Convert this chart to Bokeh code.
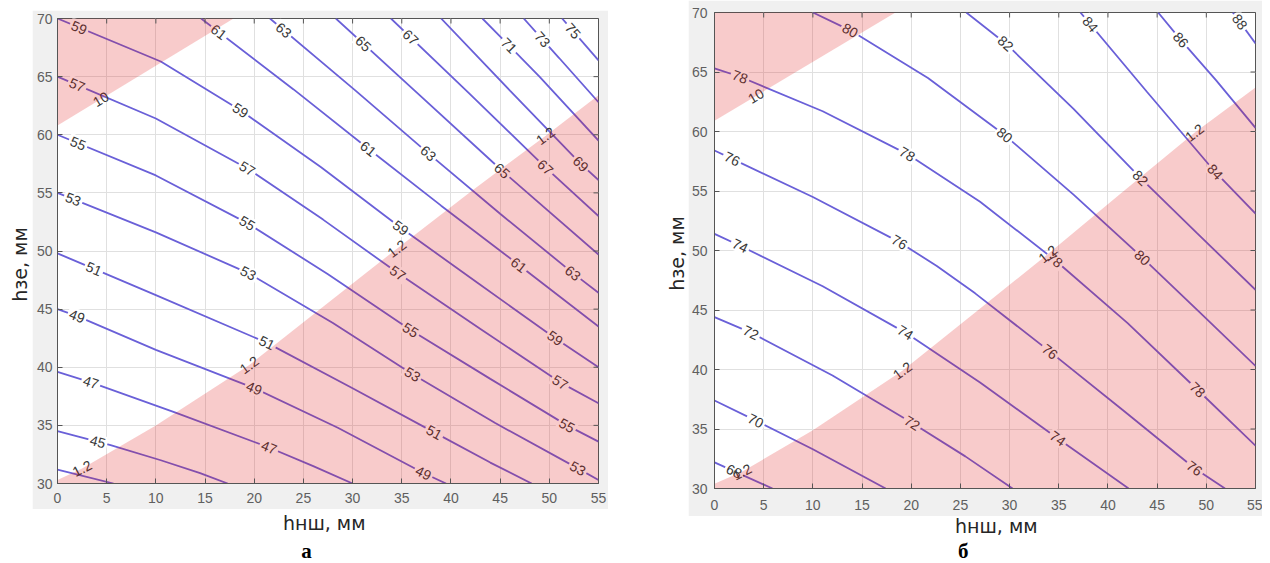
import math
import numpy as np
from bokeh.plotting import figure
from bokeh.layouts import row, column
from bokeh.models import Range1d, FixedTicker, ColumnDataSource, Spacer
from bokeh.core.properties import value
from bokeh.embed import file_html
from bokeh.resources import INLINE

# ---------------- data ----------------
X_TICKS = [0, 5, 10, 15, 20, 25, 30, 35, 40, 45, 50, 55]
Y_TICKS = [30, 35, 40, 45, 50, 55, 60, 65, 70]
X_TITLE = "hнш, мм"
Y_TITLE = "hзе, мм"
PANEL_TAGS = ["а", "б"]

# panel a: contour levels and their traced lines
A_LEVELS = [43, 45, 47, 49, 51, 53, 55, 57, 59, 61, 63, 65, 67, 69, 71, 73, 75]
A_XS = [
    [0, 5.7],
    [0, 5.4, 10.5, 14.5, 17.3],
    [0, 3.4, 12, 21.5, 26, 30],
    [0, 2, 10, 20, 28.5, 37.2, 39.5],
    [0, 10, 21.3, 30, 38.3, 44, 48.2],
    [0, 10, 19.4, 28, 36.1, 44.5, 52.9, 55],
    [0, 10, 19.3, 27.5, 35.9, 44, 51.8, 55],
    [0, 10, 19.3, 27, 34.6, 43, 51.1, 55],
    [0, 10.5, 18.6, 26.8, 34.9, 42.8, 50.6, 55],
    [14.6, 24, 31.6, 39, 46.9, 55],
    [21.6, 30.3, 37.7, 45, 52.4, 55],
    [28.3, 36.7, 45.2, 55],
    [33.9, 41.8, 49.6, 55],
    [39, 46, 53.2, 55],
    [43.2, 49, 55],
    [47.4, 51, 55],
    [51.3, 55],
]
A_YS = [
    [31.2, 30],
    [34.5, 33.3, 32.0, 30.9, 30],
    [39.6, 38.7, 36.1, 33.1, 31.5, 30],
    [45, 44.4, 41.5, 38.2, 34.8, 30.9, 30],
    [49.8, 46.2, 42.1, 38.2, 34.4, 31.8, 30],
    [55, 51.6, 48.1, 43.8, 39.4, 35.2, 31.3, 30.3],
    [60, 56.5, 52.4, 48, 43.2, 39, 35, 33.6],
    [65, 61.4, 57.1, 52.7, 48.1, 43.3, 38.7, 36.9],
    [70, 66.3, 62.1, 57.2, 52, 47.2, 42.5, 40],
    [70, 63.9, 58.8, 53.9, 48.8, 43.5],
    [70, 63.8, 58.4, 53.2, 48.1, 46.4],
    [70, 63.5, 56.9, 49.7],
    [70, 63.6, 57.2, 53.0],
    [70, 63.8, 57.5, 56.1],
    [70, 65, 59.5],
    [70, 66.6, 62.8],
    [70, 66.4],
]
A_LAB_LEVEL = [59, 59, 59, 59, 61, 61, 61, 63, 63, 63, 65, 65, 67, 67, 69, 71, 73, 75,
               57, 57, 57, 57, 55, 55, 55, 55, 53, 53, 53, 53, 51, 51, 51, 49, 49, 49, 47, 47, 45]
A_LAB_X = [2.2, 18.6, 34.9, 50.6, 16.4, 31.6, 46.9, 23.0, 37.7, 52.4, 31.1, 45.2, 35.9, 49.6, 53.2, 45.9, 49.3, 52.4,
           2.0, 19.3, 34.6, 51.1, 2.1, 19.3, 35.9, 51.8, 1.6, 19.4, 36.1, 52.9, 3.7, 21.3, 38.3, 2.0, 20.0, 37.2, 3.4, 21.5, 4.1]
A_UPPER_X = [0, 17.9]
A_UPPER_Y = [60.8, 70]
A_LOWER_X = [0, 2.5, 10, 19.5, 27, 34.5, 42, 49.6, 55]
A_LOWER_Y = [30.3, 31.3, 35.0, 40.2, 45.2, 50.2, 55.1, 59.9, 63.4]
A_BLAB_TEXT = ["10", "1.2", "1.2", "1.2", "1.2"]
A_BLAB_X = [4.4, 2.5, 19.5, 34.5, 49.6]
A_BLAB_ON = ["upper", "lower", "lower", "lower", "lower"]

# panel б
B_LEVELS = [68, 70, 72, 74, 76, 78, 80, 82, 84, 86, 88]
B_XS = [
    [0, 5.9],
    [0, 4.2, 10, 17.4],
    [0, 3.7, 12, 20.1, 25.5, 30.3],
    [0, 2.6, 11, 19.4, 27, 34.9, 42.1],
    [0, 1.8, 10, 18.8, 22.6, 26.5, 34.1, 41.5, 48.8, 51.9],
    [0, 2.6, 11, 19.6, 27, 34.6, 42, 49.1, 55],
    [10, 13.8, 21.7, 29.5, 36.5, 43.5, 49.2, 55],
    [25.6, 29.6, 36.5, 43.3, 49, 55],
    [37.2, 44, 50.9, 55],
    [45.1, 47.4, 51, 55],
    [52.7, 55],
]
B_YS = [
    [32.2, 30],
    [37.4, 35.7, 33.3, 30],
    [44.4, 43.1, 39.5, 35.5, 32.7, 30],
    [51.4, 50.4, 47, 43.1, 38.9, 34.2, 30],
    [58.4, 57.7, 54.5, 50.7, 48.7, 46.4, 41.5, 36.6, 31.7, 30],
    [65.3, 64.6, 61.7, 58.1, 54.1, 49.2, 43.9, 38.3, 33.6],
    [70, 68.5, 64.5, 59.7, 54.7, 49.4, 44.9, 40.3],
    [70, 67.4, 61.9, 56.1, 51.5, 46.7],
    [70, 63.3, 56.6, 53.1],
    [70, 67.7, 64.3, 60.3],
    [70, 67.4],
]
B_LAB_LEVEL = [68, 70, 72, 72, 74, 74, 74, 76, 76, 76, 76, 78, 78, 78, 78, 80, 80, 80, 82, 82, 84, 84, 86, 88]
B_LAB_X = [2.0, 4.2, 3.7, 20.1, 2.6, 19.4, 34.9, 1.8, 18.8, 34.1, 48.8, 2.6, 19.6, 34.6, 49.1,
           13.8, 29.5, 43.5, 29.6, 43.3, 38.2, 50.9, 47.4, 53.4]
B_UPPER_X = [0, 18.4]
B_UPPER_Y = [60.9, 70]
B_LOWER_X = [0, 2.8, 10, 19.1, 26.5, 33.9, 41.3, 48.8, 55]
B_LOWER_Y = [30.4, 31.4, 34.9, 39.9, 44.8, 49.7, 54.8, 59.9, 63.7]
B_BLAB_TEXT = ["10", "1.2", "1.2", "1.2", "1.2"]
B_BLAB_X = [4.2, 2.8, 19.1, 33.9, 48.8]
B_BLAB_ON = ["upper", "lower", "lower", "lower", "lower"]

# ---------------- style ----------------
GREY_BG = "#f0f0f0"
LINE_C = "#6a60d8"
AXIS_C = "#555555"
TICK_TXT_C = "#5f5f5f"
GRID_C = "#e0e0e0"
PINK = "#e01010"
LAB_C = "#383838"
TICK_LEN = 5


def on_line(xs, ys, xq, sx, sy):
    yq = float(np.interp(xq, xs, ys))
    x1 = max(xs[0], xq - 1.5)
    x2 = min(xs[-1], xq + 1.5)
    y1, y2 = np.interp([x1, x2], xs, ys)
    return yq, math.atan2((y2 - y1) * sy, (x2 - x1) * sx)


def build_panel(levels, xs, ys, lab_level, lab_x, up_x, up_y, lo_x, lo_y,
                bl_text, bl_x, bl_on, borders, frame, standoffs):
    l, r, t, b = borders
    fw, fh = frame
    x0, x1 = X_TICKS[0], X_TICKS[-1]
    y0, y1 = Y_TICKS[0], Y_TICKS[-1]
    sx = fw / (x1 - x0)
    sy = fh / (y1 - y0)
    p = figure(frame_width=fw, frame_height=fh,
               x_range=Range1d(x0, x1), y_range=Range1d(y0, y1),
               min_border_left=l, min_border_right=r, min_border_top=t, min_border_bottom=b,
               toolbar_location=None, output_backend="svg",
               border_fill_color=GREY_BG, background_fill_color="white",
               outline_line_color=AXIS_C)
    for ax, ticks in ((p.xaxis[0], X_TICKS), (p.yaxis[0], Y_TICKS)):
        ax.ticker = FixedTicker(ticks=ticks)
        ax.major_tick_in = TICK_LEN
        ax.major_tick_out = 0
        ax.minor_tick_in = 0
        ax.minor_tick_out = 0
        ax.axis_line_color = AXIS_C
        ax.major_tick_line_color = AXIS_C
        ax.major_label_text_color = TICK_TXT_C
        ax.major_label_text_font = "Liberation Sans"
        ax.major_label_text_font_size = "14px"
    p.xaxis[0].major_label_standoff = standoffs[1]
    p.yaxis[0].major_label_standoff = standoffs[0]
    p.xgrid.ticker = FixedTicker(ticks=X_TICKS)
    p.ygrid.ticker = FixedTicker(ticks=Y_TICKS)
    p.grid.grid_line_color = GRID_C

    p.multi_line(xs=xs, ys=ys, line_color=LINE_C, line_width=1.8)

    lx, ly, lt, la = [], [], [], []
    for lev, xq in zip(lab_level, lab_x):
        i = levels.index(lev)
        yq, ang = on_line(xs[i], ys[i], xq, sx, sy)
        lx.append(xq); ly.append(yq); lt.append(str(lev)); la.append(ang)
    p.text(x="x", y="y", text="t", angle="a",
           source=ColumnDataSource(dict(x=lx, y=ly, t=lt, a=la)),
           text_align="center", text_baseline="middle",
           text_font=value("Liberation Sans"), text_font_size="14px", text_color=LAB_C,
           background_fill_color="white", padding=2)

    bx, by, bt, ba = [], [], [], []
    for txt, xq, on in zip(bl_text, bl_x, bl_on):
        cx, cy = (up_x, up_y) if on == "upper" else (lo_x, lo_y)
        yq, ang = on_line(cx, cy, xq, sx, sy)
        bx.append(xq); by.append(yq); bt.append(txt); ba.append(ang)
    p.text(x="x", y="y", text="t", angle="a",
           source=ColumnDataSource(dict(x=bx, y=by, t=bt, a=ba)),
           text_align="center", text_baseline="middle",
           text_font=value("Liberation Sans"), text_font_size="14px", text_color=LAB_C)

    p.patch(list(up_x) + [x0], list(up_y) + [y1], fill_color=PINK, fill_alpha=0.22, line_color=None)
    p.patch(list(lo_x) + [x1, x0], list(lo_y) + [y0, y0], fill_color=PINK, fill_alpha=0.22, line_color=None)

    # inward ticks on the top and right sides of the box
    p.segment(x0=X_TICKS, y0=[y1] * len(X_TICKS), x1=X_TICKS, y1=[y1 - TICK_LEN / sy] * len(X_TICKS),
              line_color=AXIS_C, line_width=1)
    p.segment(x0=[x1] * len(Y_TICKS), y0=Y_TICKS, x1=[x1 - TICK_LEN / sx] * len(Y_TICKS), y1=Y_TICKS,
              line_color=AXIS_C, line_width=1)
    return p


def text_fig(w, h):
    f = figure(width=w, height=h, x_range=Range1d(0, w), y_range=Range1d(0, h),
               x_axis_type=None, y_axis_type=None, toolbar_location=None,
               output_backend="svg", min_border=0, outline_line_color=None,
               border_fill_color="white", background_fill_color="white")
    return f


def add_title(f, x, y, txt, angle=0.0):
    f.text(x=[x], y=[y], text=[txt], angle=angle, text_align="center", text_baseline="middle",
           text_font=value("DejaVu Sans"), text_font_size="19px", text_color="#262626")


def add_tag(f, x, txt):
    f.text(x=[x], y=[12], text=[txt], text_align="center", text_baseline="middle",
           text_font=value("Liberation Serif"), text_font_style="bold",
           text_font_size="21px", text_color="#000000")


H = 562
pA = build_panel(A_LEVELS, A_XS, A_YS, A_LAB_LEVEL, A_LAB_X, A_UPPER_X, A_UPPER_Y,
                 A_LOWER_X, A_LOWER_Y, A_BLAB_TEXT, A_BLAB_X, A_BLAB_ON,
                 borders=(25, 10, 8, 26), frame=(541, 465), standoffs=(5, 9))
pB = build_panel(B_LEVELS, B_XS, B_YS, B_LAB_LEVEL, B_LAB_X, B_UPPER_X, B_UPPER_Y,
                 B_LOWER_X, B_LOWER_Y, B_BLAB_TEXT, B_BLAB_X, B_BLAB_ON,
                 borders=(24, 7, 12, 28), frame=(541, 476), standoffs=(7, 11))

# left half: page x 0..608
ylabA = text_fig(32, H)
add_title(ylabA, 19, H - 264, Y_TITLE, math.pi / 2)
topA = Spacer(width=576, height=10)
hA = 8 + 465 + 26
botA = text_fig(576, H - 10 - hA)
add_title(botA, 284, (H - 10 - hA) - 13, X_TITLE)
add_tag(botA, 265, PANEL_TAGS[0])

# right half: page x 608..1260
ylabB = text_fig(80, H)
add_title(ylabB, 68, H - 253, Y_TITLE, math.pi / 2)
hB = 12 + 476 + 28
botB = text_fig(572, H - hB)
add_title(botB, 299, (H - hB) - 9, X_TITLE)
add_tag(botB, 264, PANEL_TAGS[1])

layout = row(ylabA, column(topA, pA, botA), ylabB, column(pB, botB))

open("out.html", "w").write(file_html(layout, INLINE))
